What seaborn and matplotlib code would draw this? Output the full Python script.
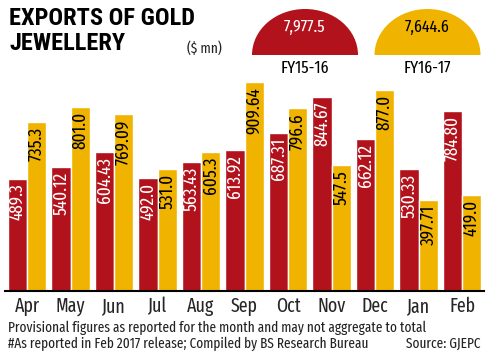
import pandas as pd
import matplotlib.pyplot as plt
import matplotlib.patches as mpatches
import seaborn as sns

months = ['Apr', 'May', 'Jun', 'Jul', 'Aug', 'Sep', 'Oct', 'Nov', 'Dec', 'Jan', 'Feb']
fy1516_labels = ['489.3', '540.12', '604.43', '492.0', '563.43', '613.92',
                 '687.31', '844.67', '662.12', '530.33', '784.80']
fy1617_labels = ['735.3', '801.0', '769.09', '531.0', '605.3', '909.64',
                 '796.6', '547.5', '877.0', '397.71', '419.0']
years = ['FY15-16', 'FY16-17']
totals = ['7,977.5', '7,644.6']

RED = '#B2121B'
YELLOW = '#F0B400'
COND = ['Roboto Condensed', 'DejaVu Sans']
XCOND = ['Fira Sans Extra Condensed', 'Roboto Condensed', 'DejaVu Sans']

df = pd.DataFrame({
    'month': months * 2,
    'year': [years[0]] * len(months) + [years[1]] * len(months),
    'value': [float(v) for v in fy1516_labels + fy1617_labels],
})

sns.set_style('white')
plt.rcParams['font.family'] = COND

W, H = 498, 358
fig = plt.figure(figsize=(W / 100, H / 100), dpi=100)
ax = fig.add_axes([5.25 / W, (H - 291) / H, 478.5 / W, 229.7 / H])

sns.barplot(data=df, x='month', y='value', hue='year', palette={years[0]: RED, years[1]: YELLOW},
            width=0.88, saturation=1, legend=False, ax=ax)
ax.set_ylim(0, 1000)
ax.set_xlim(-0.5, 10.5)
ax.set_xlabel('')
ax.set_ylabel('')
ax.set_yticks([])
for s in ['top', 'left', 'right']:
    ax.spines[s].set_visible(False)
ax.spines['bottom'].set_color('black')
ax.spines['bottom'].set_linewidth(1.5)
ax.tick_params(axis='x', length=0, pad=4)
for t in ax.get_xticklabels():
    t.set_family(XCOND)
    t.set_fontsize(14)

for cont, labels, col in zip(ax.containers, [fy1516_labels, fy1617_labels], ['white', 'black']):
    for bar, lab in zip(cont, labels):
        ax.annotate(lab, xy=(bar.get_x() + bar.get_width() / 2, bar.get_height()),
                    xytext=(0, -5), textcoords='offset pixels', rotation=90,
                    ha='center', va='top', color=col, fontsize=13.5, family=XCOND)

# header overlay in pixel coordinates
ov = fig.add_axes([0, 0, 1, 1])
ov.set_xlim(0, W)
ov.set_ylim(H, 0)
ov.axis('off')
ov.patch.set_alpha(0)

ov.text(9, 25, 'EXPORTS OF GOLD', ha='left', va='baseline', fontsize=17.6,
        fontweight='bold', color='black')
ov.text(9, 50.5, 'JEWELLERY', ha='left', va='baseline', fontsize=17.6,
        fontweight='bold', color='black')
ov.text(187, 53, '($ mn)', ha='left', va='baseline', fontsize=10.5, color='#222222', family=XCOND)

for cx, col, tcol, total, yr in zip([305, 427.5], [RED, YELLOW], ['white', 'black'], totals, years):
    clip = mpatches.Rectangle((cx - 60, 0), 120, 55, transform=ov.transData)
    half = mpatches.Ellipse((cx, 55), 106, 92, facecolor=col, edgecolor='none')
    ov.add_patch(half)
    half.set_clip_path(clip)
    ov.text(cx, 32, total, ha='center', va='baseline', fontsize=12.5, color=tcol, family=XCOND)
    ov.text(cx, 73, yr, ha='center', va='baseline', fontsize=12.5, color='black', family=XCOND)

ov.text(8, 332, 'Provisional figures as reported for the month and may not aggregate to total',
        ha='left', va='baseline', fontsize=10.4, color='#222222', family=XCOND)
ov.text(8, 348, '#As reported in Feb 2017 release; Compiled by BS Research Bureau',
        ha='left', va='baseline', fontsize=10.4, color='#222222', family=XCOND)
ov.text(480, 348, 'Source: GJEPC', ha='right', va='baseline', fontsize=10.4, color='#222222',
        family=XCOND)

fig.savefig('out.png', dpi=100)
